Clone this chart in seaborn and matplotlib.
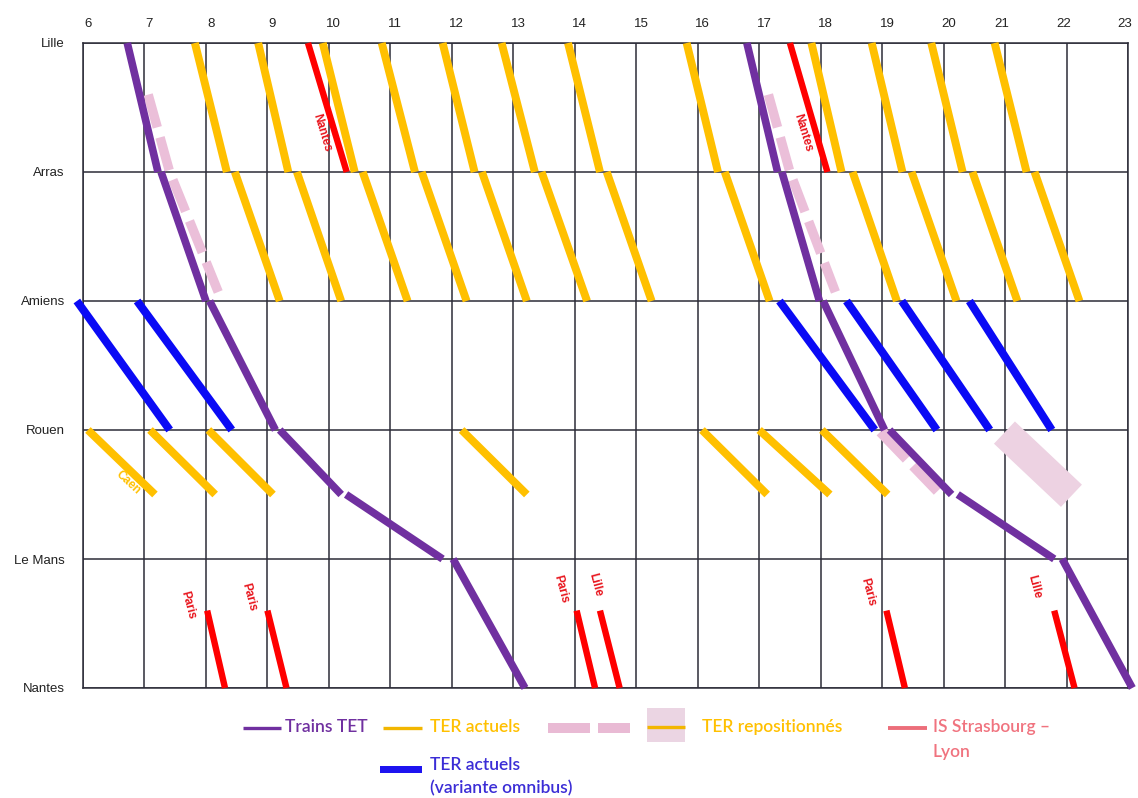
import pandas as pd
import seaborn as sns
import matplotlib.pyplot as plt
from matplotlib.lines import Line2D
from matplotlib.patches import Rectangle
from matplotlib.transforms import ScaledTranslation

stations = ["Lille", "Arras", "Amiens", "Rouen", "Le Mans", "Nantes"]
hours = list(range(6, 24))

# TET: arrival / departure at each stop (3.5 = intermediate stop Rouen - Le Mans)
tet_stops = [0, 1, 1, 2, 2, 3, 3, 3.5, 3.5, 4, 4, 5]
tet_morning = [6.72, 7.22, 7.27, 8.0, 8.06, 9.13, 9.2, 10.2, 10.28, 11.85, 12.02, 13.19]
tet_evening = [16.8, 17.3, 17.37, 17.98, 18.04, 19.04, 19.12, 20.13, 20.23, 21.8, 21.93, 23.07]

# TER actuels Lille -> Arras -> Amiens
ter_lille = [7.82, 8.85, 9.9, 10.86, 11.85, 12.81, 13.89, 15.82, 17.85, 18.83, 19.8, 20.83]
ter_arras_arr = [8.34, 9.34, 10.42, 11.4, 12.37, 13.35, 14.41, 16.33, 18.34, 19.33, 20.31, 21.35]
ter_arras_dep = [8.47, 9.48, 10.55, 11.51, 12.49, 13.46, 14.52, 16.44, 18.52, 19.48, 20.47, 21.48]
ter_amiens = [9.2, 10.2, 11.28, 12.24, 13.22, 14.2, 15.25, 17.17, 19.24, 20.21, 21.2, 22.21]

# TER actuels (variante omnibus) Amiens -> Rouen
omni_amiens = [5.9, 6.88, 17.33, 18.42, 19.32, 20.42]
omni_rouen = [7.41, 8.42, 18.88, 19.89, 20.75, 21.76]

# TER Rouen -> Caen
caen_rouen = [6.08, 7.09, 8.04, 12.16, 16.07, 17.0, 18.02]
caen_arr = [7.17, 8.15, 9.09, 13.22, 17.13, 18.15, 19.09]

# trains to Nantes (Lille -> Arras)
nantes_lille = [9.66, 17.5]
nantes_arras = [10.29, 18.11]

# trains arriving at Nantes
ouest_start = [8.02, 9.0, 14.03, 14.41, 19.07, 21.8]
ouest_end = [8.31, 9.31, 14.33, 14.73, 19.37, 22.13]
ouest_labels = ["Paris", "Paris", "Paris", "Lille", "Paris", "Lille"]

# TER repositionnes
repo_pos = [0.4, 1.0, 1.93]
repo_morning = [7.06, 7.41, 8.2]
repo_evening = [17.15, 17.5, 18.24]
repo_rouen_pos = [3.01, 3.47]
repo_rouen = [18.98, 19.91]
repo_block_pos = [3.02, 3.51]
repo_block = [20.99, 22.08]

segments = []


def add(kind, times, pos):
    segments.append(pd.DataFrame({"seg": len(segments), "kind": kind,
                                  "time": times, "pos": pos}))


for train in [tet_morning, tet_evening]:
    for i in range(0, len(train), 2):
        add("tet", train[i:i + 2], tet_stops[i:i + 2])
for a, b, c, d in zip(ter_lille, ter_arras_arr, ter_arras_dep, ter_amiens):
    add("ter", [a, b], [0, 1])
    add("ter", [c, d], [1, 2])
for a, b in zip(omni_amiens, omni_rouen):
    add("omni", [a, b], [2, 3])
for a, b in zip(caen_rouen, caen_arr):
    add("ter", [a, b], [3, 3.5])
for a, b in zip(nantes_lille, nantes_arras):
    add("red", [a, b], [0, 1])
for a, b in zip(ouest_start, ouest_end):
    add("red", [a, b], [4.4, 5])
add("repo", repo_morning, repo_pos)
add("repo", repo_evening, repo_pos)
add("repo2", repo_rouen, repo_rouen_pos)
add("block", repo_block, repo_block_pos)
df = pd.concat(segments, ignore_index=True)

styles = {
    "block": dict(color="#EDD2E2", linewidth=22, linestyle="-", zorder=2),
    "repo": dict(color="#EBBFD9", linewidth=6.8, linestyle=(0, (3.6, 1.1)), zorder=2),
    "repo2": dict(color="#EBBFD9", linewidth=8.5, linestyle=(0, (3.2, 0.8)), zorder=2),
    "ter": dict(color="#FFC000", linewidth=5.7, linestyle="-", zorder=3),
    "omni": dict(color="#0A0AF5", linewidth=5.8, linestyle="-", zorder=3),
    "red": dict(color="#FF0000", linewidth=4.6, linestyle="-", zorder=4),
    "tet": dict(color="#7030A0", linewidth=5.5, linestyle="-", zorder=5),
}

sns.set_style("white")
plt.rcParams["font.family"] = ["Liberation Sans", "DejaVu Sans"]

W, H = 1138, 798
fig = plt.figure(figsize=(W / 100, H / 100), dpi=100)
ax = fig.add_axes([83 / W, 1 - 688 / H, 1045 / W, 645 / H])

for kind, st in styles.items():
    sns.lineplot(data=df[df["kind"] == kind], x="time", y="pos", units="seg",
                 estimator=None, sort=False, legend=False, ax=ax,
                 solid_capstyle="butt", dash_capstyle="butt", clip_on=False, **st)

ax.set_xlim(6, 23)
ax.set_ylim(5, 0)
ax.set_xticks(hours)
ax.set_yticks(range(len(stations)))
ax.set_yticklabels(stations)
ax.set_xlabel("")
ax.set_ylabel("")
ax.xaxis.tick_top()
ax.tick_params(axis="x", length=0, pad=9, labelsize=9.5, colors="#222222")
ax.tick_params(axis="y", length=0, pad=13, labelsize=9.5, colors="#222222")
for h, lab in zip(hours, ax.get_xticklabels()):
    dx = 0.05 if h < 21 else -0.03
    lab.set_transform(lab.get_transform() + ScaledTranslation(dx, 0, fig.dpi_scale_trans))
ax.grid(True, color="#2C2C38", linewidth=1.1)
ax.set_axisbelow(True)
for sp in ax.spines.values():
    sp.set_color("#2C2C38")
    sp.set_linewidth(1.1)

# labels on red trains
red_txt = dict(color="#E8141C", fontsize=8.5, fontweight="bold", ha="center",
               va="center", annotation_clip=False)
for a, b in zip(nantes_lille, nantes_arras):
    ax.annotate("Nantes", xy=(a + 0.7 * (b - a), 0.7), xytext=(-13, 0),
                textcoords="offset pixels", rotation=-73, **red_txt)
label_shift = [(-19, 5), (-19, 13), (-16, 21), (-5, 26), (-19, 18), (-20, 24)]
for t, lab, off in zip(ouest_start, ouest_labels, label_shift):
    ax.annotate(lab, xy=(t, 4.4), xytext=off,
                textcoords="offset pixels", rotation=-75, **red_txt)
ax.annotate("Caen", xy=(caen_rouen[0] + 0.6 * (caen_arr[0] - caen_rouen[0]), 3.3),
            xytext=(0, -14), textcoords="offset pixels", rotation=-43,
            color="#FFC000", fontsize=8.5, fontweight="bold", ha="center", va="center")


# legend drawn in figure pixels
def fx(x):
    return x / W


def fy(y):
    return 1 - y / H


def leg_line(x0, x1, y, color, lw):
    fig.add_artist(Line2D([fx(x0), fx(x1)], [fy(y), fy(y)], transform=fig.transFigure,
                          color=color, linewidth=lw, solid_capstyle="butt"))


def leg_rect(x0, x1, y0, y1, color):
    fig.add_artist(Rectangle((fx(x0), fy(y1)), fx(x1) - fx(x0), fy(y0) - fy(y1),
                             transform=fig.transFigure, color=color, linewidth=0))


def leg_text(x, y, s, color):
    fig.text(fx(x), fy(y), s, color=color, fontsize=12.5, fontweight="semibold",
             family=["Lato", "DejaVu Sans"], va="center", ha="left")


leg_line(243, 281, 728, "#7030A0", 2.4)
leg_text(285, 727, "Trains TET", "#7030A0")
leg_line(383, 422, 728, "#F2B600", 2.4)
leg_text(430, 727, "TER actuels", "#FFC000")
leg_rect(548, 590, 723, 733, "#E9BAD4")
leg_rect(598, 630, 723, 733, "#E9BAD4")
leg_rect(647, 685, 708, 742, "#EBD5E3")
leg_line(647, 685, 727, "#F2B600", 2.4)
leg_text(702, 727, "TER repositionnés", "#FFC000")
leg_line(888, 927, 728, "#EC6E7A", 2.8)
leg_text(933, 727, "IS Strasbourg –", "#F0737F")
leg_text(933, 752, "Lyon", "#F0737F")
leg_rect(380, 422, 766, 773, "#1E14F0")
leg_text(430, 765, "TER actuels", "#3B2DD6")
leg_text(430, 788, "(variante omnibus)", "#3B2DD6")

fig.savefig("out.png", dpi=100)
